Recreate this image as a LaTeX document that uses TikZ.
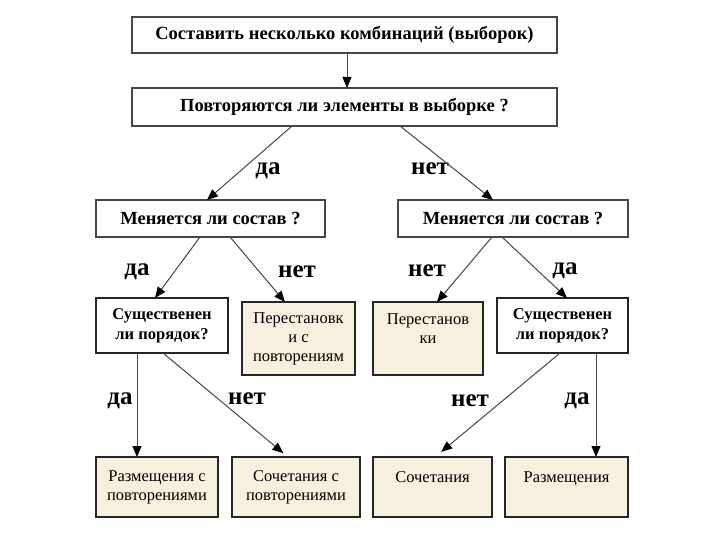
\documentclass[tikz,border=0pt]{standalone}
\usepackage{fontspec}
\setmainfont{Liberation Serif}
\usetikzlibrary{arrows.meta}
\definecolor{beige}{RGB}{247,240,222}
\definecolor{edgegray}{RGB}{70,70,70}
\tikzstyle{question} = [draw=edgegray, line width=1.3pt, fill=white, inner sep=0pt, outer sep=0pt,
  font=\bfseries\fontsize{18.5}{21}\selectfont]
\tikzstyle{order} = [draw=black!85, line width=2pt, fill=white, inner sep=0pt, outer sep=0pt, align=center,
  font=\bfseries\fontsize{16.5}{20}\selectfont]
\tikzstyle{result} = [draw=black!85, line width=2.2pt, fill=beige, inner sep=0pt, outer sep=0pt, align=center,
  font=\fontsize{16.5}{19}\selectfont]
\tikzstyle{answer} = [font=\bfseries\fontsize{25}{26}\selectfont, inner sep=0pt]
\tikzstyle{branch} = [draw=edgegray, line width=1pt, -{Triangle[length=11pt,width=9pt,black]}]

\begin{document}
\begin{tikzpicture}[x=1pt, y=-1pt]
			\useasboundingbox (0,0) rectangle (720,540);
			% questions
			\node[question, minimum width=425, minimum height=36] (make) at (344.5, 35) {Составить несколько комбинаций (выборок)};
			\node[question, minimum width=425, minimum height=38] (rep) at (344.5, 107) {Повторяются ли элементы в выборке ?};
			\node[question, minimum width=229, minimum height=37] (chl) at (210.5, 218.5) {Меняется ли состав ?};
			\node[question, minimum width=230, minimum height=37] (chr) at (513, 218.5) {Меняется ли состав ?};
			\node[order, minimum width=132, minimum height=55] (ordl) at (162, 325.5) {Существенен\\ли порядок?};
			\node[order, minimum width=131, minimum height=55] (ordr) at (562.5, 325.5) {Существенен\\ли порядок?};
			% results
			\node[result, minimum width=113, minimum height=73] (permrep) at (298.5, 338.5) {Перестановк\\и с\\повторениям};
			\node[result, minimum width=110, minimum height=73] (perm) at (428, 338.5) {Перестанов\\ки\\\mbox{}};
			\node[result, minimum width=122, minimum height=60] (arrrep) at (157, 487) {Размещения с\\повторениями};
			\node[result, minimum width=128, minimum height=60] (combrep) at (296, 487) {Сочетания с\\повторениями};
			\node[result, minimum width=119, minimum height=60] (comb) at (432.5, 487) {Сочетания\\\mbox{}};
			\node[result, minimum width=123, minimum height=60] (arr) at (566.5, 487) {Размещения\\\mbox{}};
			% answers
			\node[answer] (a1) at (268, 171) {да};
			\node[answer] (a2) at (430, 169) {нет};
			\node[answer] (a3) at (137, 272) {да};
			\node[answer] (a4) at (297, 272) {нет};
			\node[answer] (a5) at (427, 271) {нет};
			\node[answer] (a6) at (565, 271) {да};
			\node[answer] (a7) at (120, 401) {да};
			\node[answer] (a8) at (247, 399) {нет};
			\node[answer] (a9) at (470, 401) {нет};
			\node[answer] (a10) at (577, 401) {да};
			% arrows
			\draw[branch] ([xshift=2.5]make.south) -- ([xshift=2.5]rep.north);
			\draw[branch] ([xshift=-52.5]rep.south) -- ([xshift=-3.5]chl.north);
			\draw[branch] ([xshift=55.5]rep.south) -- ([xshift=-20]chr.north);
			\draw[branch] ([xshift=-10.5]chl.south) -- ([xshift=-7]ordl.north);
			\draw[branch] ([xshift=19.5]chl.south) -- ([xshift=-13.5]permrep.north);
			\draw[branch] ([xshift=-21]chr.south) -- ([xshift=9]perm.north);
			\draw[branch] ([xshift=-11]chr.south) -- ([xshift=4.5]ordr.north);
			\draw[branch] ([xshift=-25]ordl.south) -- ([xshift=-20]arrrep.north);
			\draw[branch, shorten >=6pt] ([xshift=1]ordl.south) -- ([xshift=-8]combrep.north);
			\draw[branch, shorten >=8pt] ([xshift=-2.5]ordr.south) -- ([xshift=2.5]comb.north);
			\draw[branch] ([xshift=33.5]ordr.south) -- ([xshift=29.5]arr.north);
		\end{tikzpicture}
\end{document}
